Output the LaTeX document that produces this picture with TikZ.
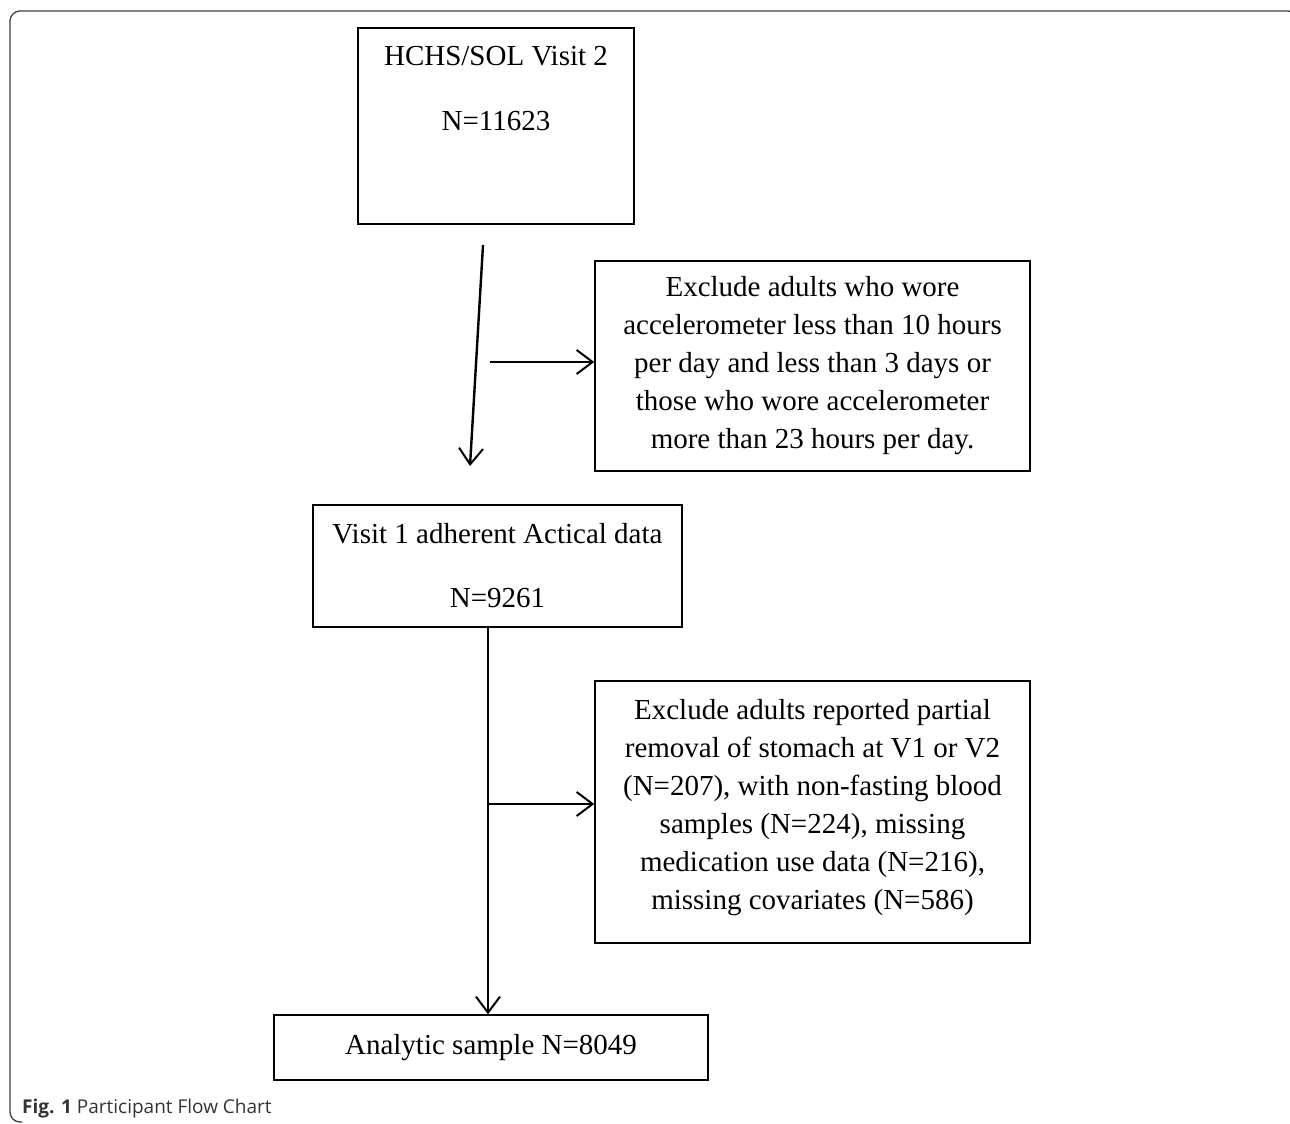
\documentclass[tikz,border=0pt]{standalone}
\usepackage{fontspec}
\setmainfont{Liberation Serif}
\newfontfamily\capfont{Open Sans}
\usetikzlibrary{arrows.meta}

\begin{document}
\begin{tikzpicture}[x=1pt,y=-1pt,>={Straight Barb[length=16pt,width=24pt,line width=2pt]},
    box/.style={draw,line width=1.4pt,inner sep=0pt,align=center,
      font=\fontsize{29}{38}\selectfont},
    flow/.style={->,line width=2.4pt}]
    \useasboundingbox (0,0) rectangle (1290,1124);
    \draw[line width=1.3pt,black!75,rounded corners=10pt]
      (22,1122) -- (10,1122) -- (10,11) -- (1298,11) -- (1298,60);
    \node[box,minimum width=276pt,minimum height=196pt,text depth=75pt] (visit2) at (496,126)
      {HCHS/SOL Visit 2\\[27pt]N=11623};
    \node[box,minimum width=435pt,minimum height=210pt] (excl1) at (812.5,366)
      {Exclude adults who wore\\accelerometer less than 10 hours\\per day and less than 3 days or\\those who wore accelerometer\\more than 23 hours per day.};
    \node[box,minimum width=369pt,minimum height=122pt] (adherent) at (497.5,566)
      {Visit 1 adherent Actical data\\[26pt]N=9261};
    \node[box,minimum width=435pt,minimum height=262pt,text depth=16pt] (excl2) at (812.5,812)
      {Exclude adults reported partial\\removal of stomach at V1 or V2\\(N=207), with non-fasting blood\\samples (N=224), missing\\medication use data (N=216),\\missing covariates (N=586)};
    \node[box,minimum width=434pt,minimum height=65pt] (sample) at (491,1047.5)
      {Analytic sample N=8049};
    \node[anchor=base west,font=\capfont\fontsize{19}{22}\selectfont,text=black!80,inner sep=0pt] (caption) at (22,1113)
      {\textbf{Fig. 1} Participant Flow Chart};
    \coordinate (top1) at (483,245);
    \coordinate (tip1) at (470,466);
    \coordinate (out1) at (490,362);
    \coordinate (down2) at (488,627);
    \coordinate (out2) at (488,804);
    \draw[flow] (top1) -- (tip1);
    \draw[flow] (out1) -- (out1 -| excl1.west);
    \draw[flow] (down2 |- adherent.south) -- (down2 |- sample.north);
    \draw[flow] (out2) -- (out2 -| excl2.west);
\end{tikzpicture}
\end{document}
